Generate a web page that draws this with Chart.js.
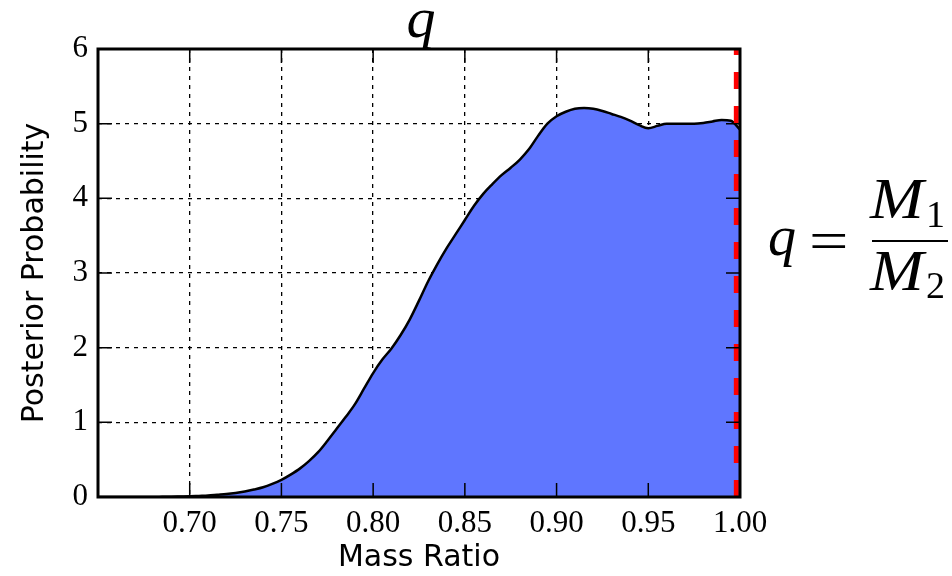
<!DOCTYPE html>
<html><head><meta charset="utf-8">
<script src="https://cdn.jsdelivr.net/npm/chart.js@4/dist/chart.umd.min.js"></script>
<style>html,body{margin:0;padding:0;background:#fff;} #wrap{width:952px;height:576px;position:relative;}</style>
</head><body><div id="wrap"><canvas id="c" width="952" height="576"></canvas></div>
<script>
const massRatio = [0.65,0.655,0.66,0.665,0.67,0.675,0.68,0.685,0.69,0.695,0.70,0.705,0.71,0.715,0.72,0.725,0.73,0.735,0.74,0.745,0.75,0.755,0.76,0.765,0.77,0.775,0.78,0.785,0.79,0.795,0.80,0.805,0.81,0.815,0.82,0.825,0.83,0.835,0.84,0.845,0.85,0.855,0.86,0.865,0.87,0.875,0.88,0.885,0.89,0.895,0.90,0.905,0.91,0.915,0.92,0.925,0.93,0.935,0.94,0.945,0.95,0.955,0.96,0.965,0.97,0.975,0.98,0.985,0.99,0.995,1.00];
const posterior = [0,0,0,0,0,0,0,0.002,0.004,0.007,0.01,0.015,0.02,0.03,0.04,0.055,0.075,0.10,0.13,0.175,0.23,0.30,0.38,0.48,0.60,0.75,0.91,1.07,1.24,1.45,1.66,1.84,1.99,2.17,2.38,2.63,2.89,3.12,3.33,3.52,3.71,3.90,4.06,4.19,4.31,4.41,4.52,4.66,4.84,5.00,5.10,5.16,5.20,5.21,5.20,5.17,5.13,5.09,5.04,4.98,4.94,4.97,5.00,5.00,5.00,5.00,5.01,5.03,5.05,5.04,4.92];
const xTickValues = [0.70,0.75,0.80,0.85,0.90,0.95,1.00];
const yTickValues = [0,1,2,3,4,5,6];
const boundaryX = [0.998, 0.998];
const boundaryY = [0, 6];
const titleText = 'q';
const xTitle = 'Mass Ratio';
const yTitle = 'Posterior Probability';

const serif = '"Liberation Serif", "Times New Roman", serif';
const sans = '"DejaVu Sans", sans-serif';

function stretchedText(ctx, txt, x, y, sx) {
  ctx.save();
  ctx.translate(x, y);
  ctx.scale(sx, 1);
  ctx.fillText(txt, 0, 0);
  ctx.restore();
}

const decor = {
  id: 'decor',
  afterDraw(chart) {
    const ctx = chart.ctx;
    const a = chart.chartArea;
    const xs = chart.scales.x, ys = chart.scales.y;
    ctx.save();
    ctx.strokeStyle = '#000';
    ctx.lineWidth = 1.5;
    const tl = 14;
    ctx.beginPath();
    xTickValues.forEach(v => {
      const px = xs.getPixelForValue(v);
      ctx.moveTo(px, a.bottom); ctx.lineTo(px, a.bottom - tl);
      ctx.moveTo(px, a.top); ctx.lineTo(px, a.top + tl);
    });
    yTickValues.forEach(v => {
      const py = ys.getPixelForValue(v);
      ctx.moveTo(a.left, py); ctx.lineTo(a.left + tl, py);
      ctx.moveTo(a.right, py); ctx.lineTo(a.right - tl, py);
    });
    ctx.stroke();
    ctx.lineWidth = 3;
    ctx.strokeRect(a.left, a.top, a.right - a.left, a.bottom - a.top);
    ctx.fillStyle = '#000';
    ctx.textAlign = 'center';
    ctx.textBaseline = 'alphabetic';
    ctx.font = 'italic 58px ' + serif;
    ctx.fillText(titleText, (a.left + a.right) / 2 + 2, 37);
    ctx.textAlign = 'left';
    ctx.font = 'italic 56px ' + serif;
    ctx.fillText('q', 768, 255);
    ctx.font = '56px ' + serif;
    stretchedText(ctx, '=', 809, 260, 1.25);
    ctx.font = 'italic 56px ' + serif;
    stretchedText(ctx, 'M', 870, 218, 1.15);
    stretchedText(ctx, 'M', 870, 290, 1.15);
    ctx.font = '38px ' + serif;
    ctx.fillText('1', 926, 227);
    ctx.fillText('2', 926, 298);
    ctx.fillRect(872, 240, 76, 2);
    ctx.restore();
  }
};

new Chart(document.getElementById('c'), {
  type: 'line',
  data: {
    datasets: [
      {
        data: massRatio.map((x, i) => ({x: x, y: posterior[i]})),
        borderColor: '#000',
        borderWidth: 2.5,
        backgroundColor: 'rgb(95,118,255)',
        fill: 'origin',
        pointRadius: 0,
        cubicInterpolationMode: 'monotone',
        order: 2
      },
      {
        data: boundaryX.map((x, i) => ({x: x, y: boundaryY[i]})),
        borderColor: '#ff0000',
        borderWidth: 5,
        borderDash: [17, 17],
        pointRadius: 0,
        fill: false,
        order: 1
      }
    ]
  },
  options: {
    responsive: false,
    animation: false,
    events: [],
    layout: {padding: {left: 0, right: 212, top: 49, bottom: 0}},
    plugins: {legend: {display: false}, tooltip: {enabled: false}, title: {display: false}},
    scales: {
      x: {
        type: 'linear', min: 0.65, max: 1.0, z: 1,
        afterBuildTicks: s => { s.ticks = xTickValues.map(v => ({value: v})); },
        afterFit: s => { s.height = 79; },
        grid: {color: '#000', lineWidth: 1.3, drawTicks: false},
        border: {display: false, dash: [4, 5]},
        ticks: {color: '#000', padding: 8, maxRotation: 0, autoSkip: false,
          font: {family: serif, size: 31}, callback: v => Number(v).toFixed(2)},
        title: {display: true, text: xTitle, color: '#000', font: {family: sans, size: 30},
          padding: {top: 0, bottom: 0}}
      },
      y: {
        type: 'linear', min: 0, max: 6, z: 1,
        afterBuildTicks: s => { s.ticks = yTickValues.map(v => ({value: v})); },
        afterFit: s => { s.width = 98; },
        grid: {color: '#000', lineWidth: 1.3, drawTicks: false},
        border: {display: false, dash: [4, 5]},
        ticks: {color: '#000', padding: 10, autoSkip: false,
          font: {family: serif, size: 31}, callback: v => String(v)},
        title: {display: true, text: yTitle, color: '#000', font: {family: sans, size: 30},
          padding: {top: 17, bottom: 0}}
      }
    }
  },
  plugins: [decor]
});
</script>
</body></html>
